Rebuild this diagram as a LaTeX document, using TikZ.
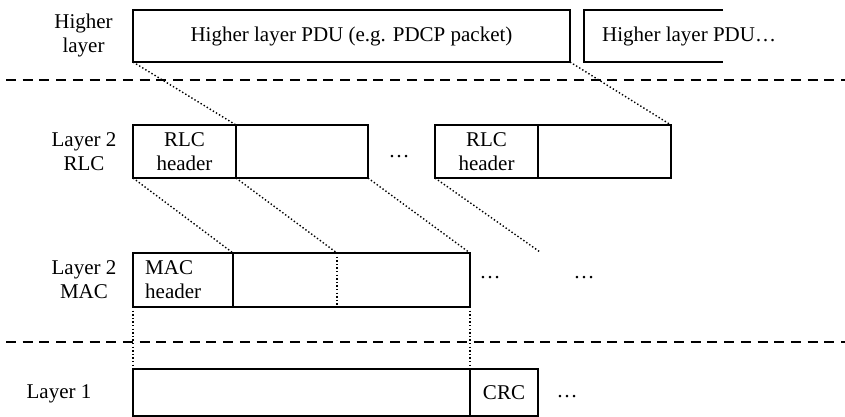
\documentclass[tikz,border=0pt]{standalone}
\usepackage{fontspec}
\setmainfont{Liberation Serif}
\begin{document}
\begin{tikzpicture}[x=1pt,y=-1pt,
  box/.style={draw, line width=2pt, inner sep=0pt, outer sep=0pt, align=center,
    font=\fontsize{21}{24}\selectfont},
  lbl/.style={align=center, inner sep=0pt, font=\fontsize{21}{24}\selectfont},
  dotline/.style={line width=1.4pt, dash pattern=on 1.4pt off 2.2pt},
  sepline/.style={line width=2pt, dash pattern=on 10pt off 6.7pt}]
\useasboundingbox (0,0) rectangle (845,417);

% separators
\coordinate (s1l) at (6,80);
\coordinate (s1r) at (845,80);
\coordinate (s2l) at (6,342);
\coordinate (s2r) at (845,342);
\draw[sepline] (s1l) -- (s1r);
\draw[sepline] (s2l) -- (s2r);

% layer labels
\node[lbl] (lhl) at (83.5,35) {Higher\\layer};
\node[lbl] (lrlc) at (84,152) {Layer 2\\RLC};
\node[lbl] (lmac) at (84,280) {Layer 2\\MAC};
\node[lbl] (l1) at (59,394) {Layer 1};

% higher layer
\node[box, minimum width=437pt, minimum height=52pt] (pdu1) at (351.5,36)
  {Higher layer PDU (e.g. PDCP packet)};
\coordinate (p2a) at (723,10);
\coordinate (p2b) at (584,10);
\coordinate (p2c) at (584,62);
\coordinate (p2d) at (723,62);
\draw[line width=2pt] (p2a) -- (p2b) -- (p2c) -- (p2d);
\node[lbl, anchor=west] (pdu2t) at (602,36) {Higher layer PDU…};

% RLC
\node[box, minimum width=103pt, minimum height=53pt] (rlch1) at (184.5,151.5) {RLC\\header};
\node[box, minimum width=132pt, minimum height=53pt] (rlcd1) at (302,151.5) {};
\node[lbl] (rdots) at (399,157) {…};
\node[box, minimum width=103pt, minimum height=53pt] (rlch2) at (486.5,151.5) {RLC\\header};
\node[box, minimum width=133pt, minimum height=53pt] (rlcd2) at (604.5,151.5) {};

% MAC
\node[box, minimum width=100pt, minimum height=54pt] (mach) at (183,280) {};
\node[lbl, anchor=west, align=left] (macht) at (145,280) {MAC\\header};
\node[box, minimum width=237pt, minimum height=54pt] (macd) at (351.5,280) {};
\coordinate (mtop) at (337,253);
\coordinate (mbot) at (337,307);
\draw[dotline] (mtop) -- (mbot);
\node[lbl] (mdots1) at (490,278) {…};
\node[lbl] (mdots2) at (584,278) {…};

% Layer 1
\node[box, minimum width=337pt, minimum height=47pt] (l1d) at (301.5,392.5) {};
\node[box, minimum width=68pt, minimum height=47pt] (crc) at (504,392.5) {CRC};
\node[lbl] (l1dots) at (567,397) {…};

% mapping lines
\coordinate (free) at (540,252);
\draw[dotline] (pdu1.south west) -- (rlch1.north east);
\draw[dotline] (pdu1.south east) -- (rlcd2.north east);
\draw[dotline] (rlch1.south west) -- (mach.north east);
\draw[dotline] (rlch1.south east) -- (mtop);
\draw[dotline] (rlcd1.south east) -- (macd.north east);
\draw[dotline] (rlch2.south west) -- (free);
\draw[dotline] (mach.south west) -- (l1d.north west);
\draw[dotline] (macd.south east) -- (l1d.north east);
\end{tikzpicture}
\end{document}
